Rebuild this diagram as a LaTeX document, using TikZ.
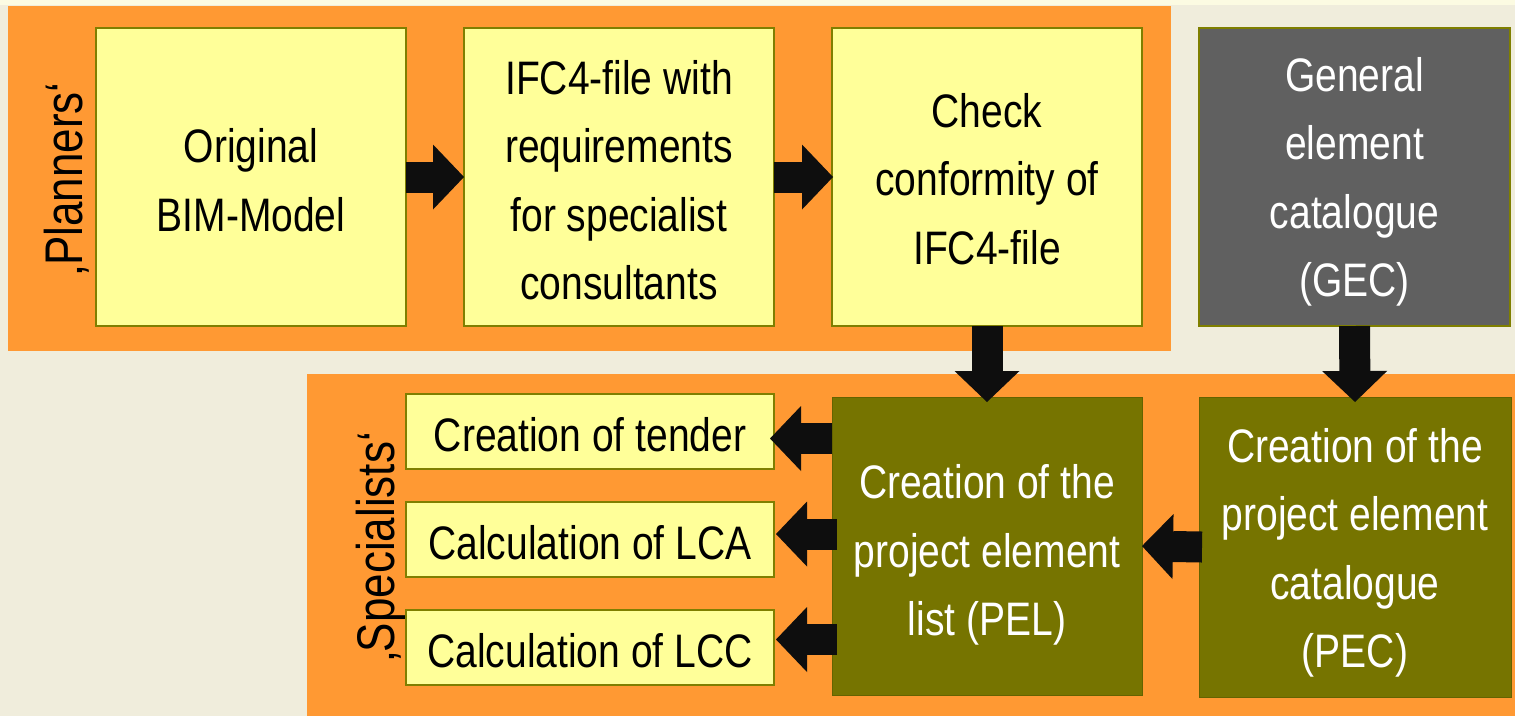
\documentclass[tikz,border=0pt]{standalone}
\usepackage{fontspec}
\setmainfont{Liberation Sans}[FakeStretch=0.83]
\usetikzlibrary{arrows.meta}
\definecolor{bgc}{HTML}{F0EDDC}
\definecolor{orangec}{HTML}{FF9933}
\definecolor{yel}{HTML}{FFFF99}
\definecolor{olb}{HTML}{7F7F00}
\definecolor{olf}{HTML}{767400}
\definecolor{greyc}{HTML}{606060}
\definecolor{arr}{HTML}{0E0E0E}
\definecolor{stripc}{HTML}{FCFBE2}
\begin{document}
\begin{tikzpicture}[x=1pt,y=-1pt,
  every node/.style={inner sep=0pt, outer sep=0pt},
  txt/.style={font=\fontsize{47}{68.5}\selectfont, align=center},
  wtxt/.style={txt, text=white},
  ybox/.style={fill=yel, draw=olb, line width=2pt},
  obox/.style={fill=olf, draw=olf!85!black, line width=1pt},
  gbox/.style={fill=greyc, draw=olb, line width=2pt},
  bigbox/.style={minimum width=310pt, minimum height=298pt},
  smallbox/.style={minimum width=368pt, minimum height=75pt},
  barrow/.style={draw=arr, line width=31pt, -{Triangle[length=31pt,width=65pt,line width=0pt]}},
  lab/.style={font=\fontsize{53}{60}\selectfont, rotate=90, anchor=base}
]
\useasboundingbox (0,0) rectangle (1515,716);
\fill[bgc] (0,0) rectangle (1515,716);
\fill[stripc] (0,0) rectangle (1515,5);
% panels
\fill[orangec] (8,6) rectangle (1171,351);
\fill[orangec] (307,374) rectangle (1515,716);
% labels
\node[lab] (planners) at (82,179) {‚Planners‘};
\node[lab] (specialists) at (394,547) {‚Specialists‘};
% top row
\node[ybox,bigbox] (bim) at (251,177) {};
\node[ybox,bigbox] (ifc) at (619,177) {};
\node[ybox,bigbox] (check) at (987,177) {};
\node[gbox,minimum width=311pt,minimum height=298pt] (gec) at (1354.5,177) {};
% bottom row
\node[obox,bigbox] (pel) at (987,546) {};
\node[obox,minimum width=312pt,minimum height=300pt] (pec) at (1355,547) {};
\node[ybox,smallbox] (tender) at (590,431.5) {};
\node[ybox,smallbox] (lca) at (590,539.5) {};
\node[ybox,smallbox] (lcc) at (590,647.5) {};
% texts
\node[txt] (bimT) at ([yshift=-3pt]bim.center) {Original\\BIM-Model};
\node[txt] (ifcT) at ([yshift=-3pt]ifc.center) {IFC4-file with\\requirements\\for specialist\\consultants};
\node[txt] (checkT) at ([yshift=-2pt]check.center) {Check\\conformity of\\IFC4-file};
\node[wtxt] (gecT) at ([yshift=-5pt]gec.center) {General\\element\\catalogue\\(GEC)};
\node[wtxt] (pelT) at ([yshift=-9pt]pel.center) {Creation of the\\project element\\list (PEL)};
\node[wtxt] (pecT) at ([yshift=-6pt]pec.center) {Creation of the\\project element\\catalogue\\(PEC)};
\node[txt] (tenderT) at ([yshift=-3pt]tender.center) {Creation of tender};
\node[txt] (lcaT) at ([yshift=-3pt]lca.center) {Calculation of LCA};
\node[txt] (lccT) at ([yshift=-3pt]lcc.center) {Calculation of LCC};
% arrows
\draw[barrow] (bim.east) -- (ifc.west);
\draw[barrow,shorten >=-1pt] (ifc.east) -- (check.west);
\draw[barrow,shorten >=-5pt] (check.south) -- (pel.north);
\draw[barrow,shorten >=-5pt] (gec.south) -- (pec.north);
\draw[barrow] ([xshift=3pt]pec.west) -- (pel.east);
\draw[barrow,shorten >=-4pt] ([yshift=-7pt]pel.west |- tender.east) -- ([yshift=-7pt]tender.east);
\draw[barrow,shorten >=2pt] ([yshift=5.5pt,xshift=5pt]pel.west |- lca.east) -- ([yshift=5.5pt]lca.east);
\draw[barrow,shorten >=2pt] ([yshift=8pt,xshift=5pt]pel.west |- lcc.east) -- ([yshift=8pt]lcc.east);
\end{tikzpicture}
\end{document}
